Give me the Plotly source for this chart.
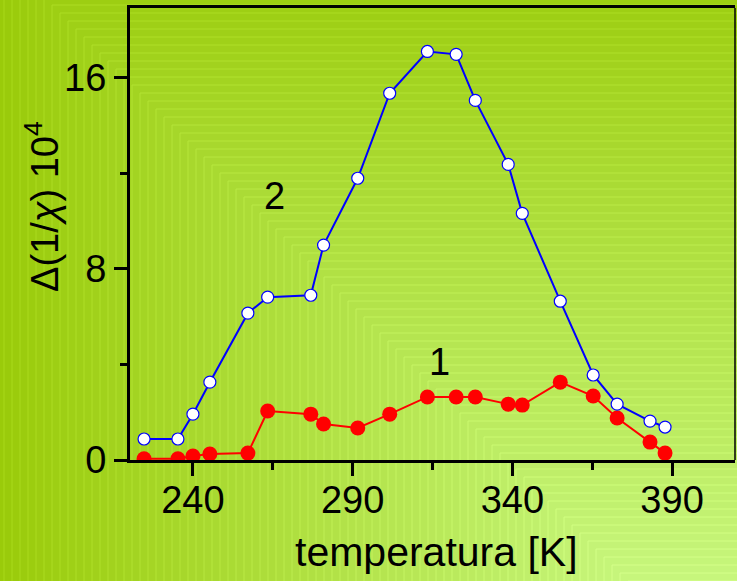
import plotly.graph_objects as go

# ---- data ----
temperature = [224.7, 235.3, 240.0, 245.3, 257.2, 263.4, 276.9, 280.9, 291.6, 301.6,
               313.4, 322.4, 328.4, 338.7, 343.1, 355.0, 365.3, 372.8, 383.1, 387.8]
series_1 = [0.05, 0.05, 0.17, 0.25, 0.29, 2.05, 1.92, 1.51, 1.34, 1.92,
            2.64, 2.64, 2.64, 2.34, 2.30, 3.26, 2.68, 1.76, 0.75, 0.29]
series_2 = [0.88, 0.88, 1.92, 3.26, 6.15, 6.82, 6.90, 9.0, 11.8, 15.36,
            17.11, 16.99, 15.06, 12.38, 10.33, 6.65, 3.56, 2.34, 1.63, 1.38]
x_ticks = [240, 290, 340, 390]
y_ticks = [0, 8, 16]

W, H = 737, 581
ML, MR, MT, MB = 130, 2, 8, 121
PW, PH = W - ML - MR, H - MT - MB

FONT = "Liberation Sans, Arial, sans-serif"


def px2paper(px, py):
    return (px - ML) / PW, (H - MB - py) / PH


# ---- background: concentric square gradient (decorative) ----
shapes = []
cx, cy = 800, 753
dark = (154, 203, 10)
light = (200, 247, 128)
s = 820
while s > 0:
    t = min(max((800 - s) / 640.0, 0.0), 1.0)
    c = tuple(int(round(dark[i] + (light[i] - dark[i]) * t)) for i in range(3))
    lc = tuple(min(255, v + 14) for v in c)
    x0, y0 = px2paper(cx - s, cy + s)
    x1, y1 = px2paper(cx + s, cy - s)
    shapes.append(dict(type="rect", xref="paper", yref="paper", x0=x0, y0=y0, x1=x1, y1=y1,
                       fillcolor="rgb(%d,%d,%d)" % c,
                       line=dict(color="rgb(%d,%d,%d)" % lc, width=1), layer="below"))
    s -= 8

# right border (thin)
shapes.append(dict(type="line", xref="paper", yref="paper", x0=1, x1=1, y0=0, y1=1,
                   line=dict(color="black", width=1.5), layer="above"))

fig = go.Figure()
fig.add_trace(go.Scatter(x=temperature, y=series_1, mode="lines+markers",
                         line=dict(color="#ff0000", width=2),
                         marker=dict(size=15, color="#ff0000", line=dict(width=0)),
                         showlegend=False))
fig.add_trace(go.Scatter(x=temperature, y=series_2, mode="lines+markers",
                         line=dict(color="#0000ff", width=2),
                         marker=dict(size=12, color="white", line=dict(color="#0000ff", width=1.2)),
                         showlegend=False))

annotations = [
    dict(x=265.6, y=11.05, xref="x", yref="y", text="2", showarrow=False,
         font=dict(family=FONT, size=38, color="black")),
    dict(x=317.2, y=4.1, xref="x", yref="y", text="1", showarrow=False,
         font=dict(family=FONT, size=38, color="black")),
]
tx, ty = px2paper(436, 552)
annotations.append(dict(x=tx, y=ty, xref="paper", yref="paper", text="temperatura [K]",
                        showarrow=False, xanchor="center", yanchor="middle",
                        font=dict(family=FONT, size=41, color="black")))
yx, yy = px2paper(42, 207)
annotations.append(dict(x=yx, y=yy, xref="paper", yref="paper",
                        text="Δ(1/<i>χ</i>) 10<sup>4</sup>", textangle=-90,
                        showarrow=False, xanchor="center", yanchor="middle",
                        font=dict(family=FONT, size=38, color="black")))

fig.update_layout(
    width=W, height=H,
    margin=dict(l=ML, r=MR, t=MT, b=MB, pad=0),
    paper_bgcolor="rgb(154,203,10)",
    plot_bgcolor="rgba(0,0,0,0)",
    shapes=shapes,
    annotations=annotations,
    font=dict(family=FONT, color="black"),
    xaxis=dict(range=[220.3, 409.7], tickvals=x_ticks, ticktext=[str(v) for v in x_ticks],
               ticks="outside", ticklen=13, tickwidth=3, tickcolor="black",
               ticklabelstandoff=-9,
               showline=True, linewidth=3, linecolor="black", mirror=True,
               showgrid=False, zeroline=False,
               tickfont=dict(family=FONT, size=38, color="black"),
               minor=dict(tickvals=[265, 315, 365], ticks="outside", ticklen=7,
                          tickwidth=3, tickcolor="black", showgrid=False)),
    yaxis=dict(range=[0, 18.93], tickvals=y_ticks, ticktext=[str(v) for v in y_ticks],
               ticks="outside", ticklen=13, tickwidth=3, tickcolor="black",
               showline=True, linewidth=3, linecolor="black",
               showgrid=False, zeroline=False,
               tickfont=dict(family=FONT, size=38, color="black"),
               minor=dict(tickvals=[4, 12], ticks="outside", ticklen=7,
                          tickwidth=3, tickcolor="black", showgrid=False)),
)

fig.write_html("out.html")
